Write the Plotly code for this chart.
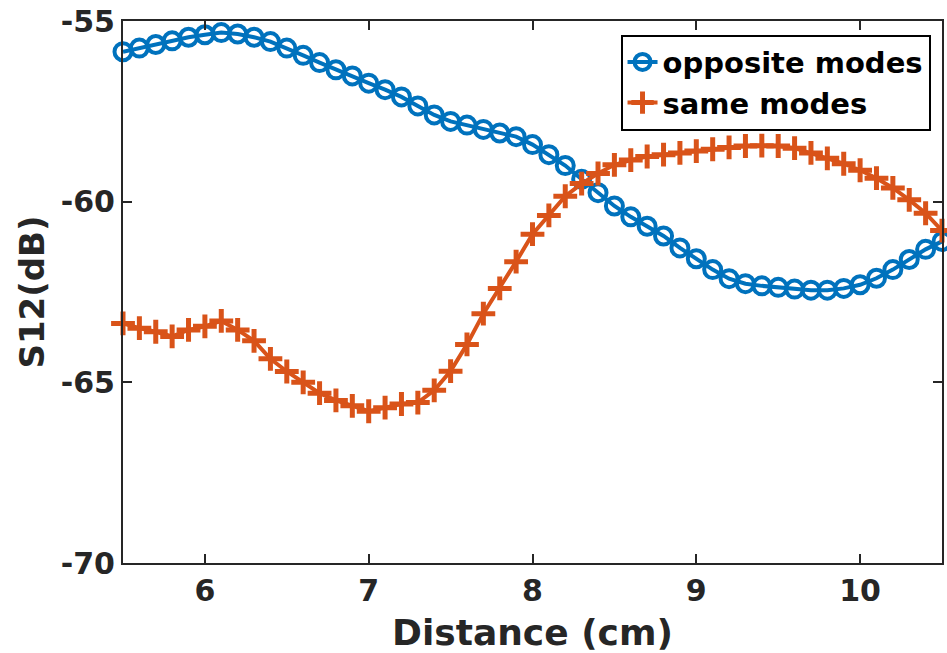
import plotly.graph_objects as go

# Distance sweep in cm (0.1 cm step)
distance = [round(5.5 + 0.1 * i, 1) for i in range(51)]

opposite_modes = [
    -55.85, -55.75, -55.65, -55.55, -55.45, -55.38, -55.32, -55.36, -55.45, -55.57,
    -55.75, -55.95, -56.15, -56.35, -56.52, -56.72, -56.9, -57.1, -57.35, -57.6,
    -57.78, -57.88, -58.0, -58.1, -58.2, -58.42, -58.7, -59.0, -59.38, -59.75,
    -60.12, -60.42, -60.68, -60.95, -61.28, -61.58, -61.88, -62.13, -62.27, -62.33,
    -62.37, -62.42, -62.45, -62.45, -62.4, -62.3, -62.12, -61.88, -61.6, -61.32, -61.1,
]

same_modes = [
    -63.37, -63.5, -63.6, -63.73, -63.55, -63.45, -63.3, -63.55, -63.85, -64.35,
    -64.7, -65.0, -65.3, -65.5, -65.65, -65.8, -65.7, -65.6, -65.56, -65.22,
    -64.69, -63.95, -63.1, -62.4, -61.66, -60.9, -60.38, -59.85, -59.5, -59.22,
    -58.98, -58.85, -58.75, -58.7, -58.65, -58.6, -58.55, -58.5, -58.46, -58.45,
    -58.46, -58.52, -58.65, -58.8, -58.95, -59.13, -59.35, -59.62, -59.95, -60.32, -60.8,
]

x_ticks = [6, 7, 8, 9, 10]
x_tick_labels = ["6", "7", "8", "9", "10"]
y_ticks = [-70, -65, -60, -55]
y_tick_labels = ["-70", "-65", "-60", "-55"]

BLUE = "#0072BD"
ORANGE = "#D95319"
INK = "#262626"
FONT = "DejaVu Sans"

fig = go.Figure()
fig.add_trace(go.Scatter(
    x=distance, y=opposite_modes, name="opposite modes",
    mode="lines+markers", cliponaxis=False,
    line=dict(color=BLUE, width=4),
    marker=dict(symbol="circle-open", size=17, color=BLUE, line=dict(width=4, color=BLUE)),
))
fig.add_trace(go.Scatter(
    x=distance, y=same_modes, name="same modes",
    mode="lines+markers", cliponaxis=False,
    line=dict(color=ORANGE, width=4),
    marker=dict(symbol="cross-thin-open", size=17, color=ORANGE, line=dict(width=5, color=ORANGE)),
))

axis_common = dict(
    showline=True, mirror="ticks", linecolor=INK, linewidth=2,
    ticks="inside", ticklen=9, tickwidth=2, tickcolor=INK,
    showgrid=False, zeroline=False,
    tickfont=dict(family=FONT, size=30, color=INK, weight="bold"),
)

fig.update_layout(
    width=947, height=653,
    margin=dict(l=123, r=3, t=18, b=90),
    paper_bgcolor="white", plot_bgcolor="white",
    font=dict(family=FONT, color=INK),
    xaxis=dict(
        range=[5.5, 10.5], tickvals=x_ticks, ticktext=x_tick_labels, **axis_common,
        title=dict(text="Distance (cm)", standoff=15,
                   font=dict(family=FONT, size=36, color=INK, weight="bold")),
    ),
    yaxis=dict(
        range=[-70, -55], tickvals=y_ticks, ticktext=y_tick_labels, **axis_common,
        title=dict(text="S12(dB)", standoff=6,
                   font=dict(family=FONT, size=34, color=INK, weight="bold")),
    ),
    legend=dict(
        x=0.986, y=0.975, xanchor="right", yanchor="top",
        bgcolor="white", bordercolor="black", borderwidth=2,
        font=dict(family=FONT, size=29, color="black", weight="bold"),
        itemwidth=30, tracegroupgap=0,
    ),
    showlegend=True,
)

fig.write_html("out.html")
